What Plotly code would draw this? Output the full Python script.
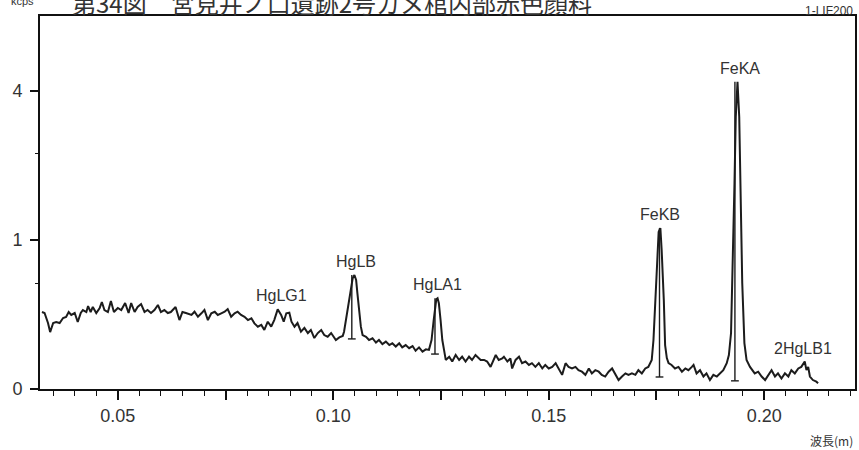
import numpy as np
import plotly.graph_objects as go

# ---- data (wavelength in nm, intensity in kcps) ----
wavelength = [
    0.0324, 0.0330, 0.0338, 0.0343, 0.0350, 0.0357, 0.0365, 0.0373, 0.0380, 0.0386,
    0.0392, 0.0400, 0.0407, 0.0414, 0.0419, 0.0427, 0.0431, 0.0437, 0.0442, 0.0450,
    0.0458, 0.0463, 0.0469, 0.0477, 0.0484, 0.0491, 0.0500, 0.0508, 0.0517, 0.0525,
    0.0531, 0.0539, 0.0546, 0.0554, 0.0562, 0.0569, 0.0577, 0.0585, 0.0593, 0.0600,
    0.0608, 0.0616, 0.0623, 0.0634, 0.0643, 0.0650, 0.0658,
    0.0671, 0.0678, 0.0686, 0.0694, 0.0701, 0.0709, 0.0717, 0.0725, 0.0732, 0.0740,
    0.0748, 0.0755, 0.0763, 0.0771, 0.0778, 0.0786, 0.0794, 0.0802, 0.0810, 0.0817,
    0.0825, 0.0833, 0.0840, 0.0848, 0.0856, 0.0863, 0.0871, 0.0879, 0.0885, 0.0891,
    0.0898, 0.0903, 0.0910, 0.0917, 0.0925, 0.0933, 0.0941, 0.0948, 0.0956, 0.0964,
    0.0972, 0.0979, 0.0987, 0.0995,
    0.1006, 0.1014, 0.1022, 0.1025, 0.1029, 0.1033, 0.1037, 0.1041, 0.1045, 0.1049,
    0.1053, 0.1056, 0.1060, 0.1064, 0.1068, 0.1076, 0.1083, 0.1091, 0.1099, 0.1106,
    0.1114, 0.1122, 0.1130, 0.1137, 0.1145, 0.1153, 0.1160, 0.1168, 0.1176, 0.1184,
    0.1191, 0.1199, 0.1207, 0.1215, 0.1222, 0.1228, 0.1233, 0.1236, 0.1239, 0.1242,
    0.1245, 0.1249, 0.1253, 0.1257, 0.1261, 0.1269, 0.1276, 0.1284, 0.1292, 0.1299,
    0.1307, 0.1315, 0.1322, 0.1330, 0.1338,
    0.1342, 0.1350, 0.1357, 0.1365, 0.1369, 0.1377, 0.1384, 0.1392, 0.1396, 0.1404,
    0.1411, 0.1415, 0.1423, 0.1431, 0.1438, 0.1446, 0.1454, 0.1461, 0.1469, 0.1477,
    0.1485, 0.1492, 0.1500, 0.1508, 0.1516, 0.1523, 0.1531, 0.1539, 0.1546, 0.1554,
    0.1562, 0.1569, 0.1577, 0.1585, 0.1593, 0.1600, 0.1608, 0.1616, 0.1623, 0.1631,
    0.1639, 0.1647, 0.1654, 0.1662, 0.1670, 0.1678, 0.1685, 0.1693,
    0.1701, 0.1708, 0.1716, 0.1724, 0.1731, 0.1739, 0.1743, 0.1747, 0.1751, 0.1755,
    0.1759, 0.1762, 0.1767, 0.1770, 0.1774, 0.1778, 0.1785, 0.1793, 0.1801, 0.1809,
    0.1817, 0.1824, 0.1832, 0.1836, 0.1843, 0.1851, 0.1859, 0.1866, 0.1874, 0.1882,
    0.1890, 0.1898, 0.1905, 0.1913, 0.1918, 0.1923, 0.1927, 0.1931, 0.1934, 0.1938,
    0.1942, 0.1946, 0.1949, 0.1954, 0.1959, 0.1967,
    0.1978, 0.1986, 0.1994, 0.2002, 0.2009, 0.2017, 0.2025, 0.2032, 0.2040, 0.2048,
    0.2056, 0.2063, 0.2071, 0.2079, 0.2086, 0.2094, 0.2098, 0.2102, 0.2106, 0.2113,
    0.2121, 0.2125,
]
intensity_kcps = [
    0.267, 0.260, 0.196, 0.146, 0.196, 0.202, 0.196, 0.227, 0.234, 0.267,
    0.247, 0.260, 0.202, 0.260, 0.281, 0.267, 0.310, 0.267, 0.303, 0.260,
    0.296, 0.341, 0.281, 0.267, 0.349, 0.267, 0.296, 0.281, 0.333, 0.260,
    0.333, 0.267, 0.303, 0.325, 0.267, 0.281, 0.260, 0.281, 0.318, 0.267,
    0.281, 0.260, 0.267, 0.303, 0.214, 0.267, 0.260,
    0.247, 0.269, 0.235, 0.258, 0.281, 0.214, 0.258, 0.269, 0.247, 0.258,
    0.269, 0.288, 0.235, 0.258, 0.269, 0.247, 0.235, 0.214, 0.225, 0.194,
    0.175, 0.185, 0.157, 0.204, 0.175, 0.214, 0.286, 0.247, 0.204, 0.258,
    0.262, 0.204, 0.175, 0.196, 0.148, 0.168, 0.141, 0.157, 0.117, 0.141,
    0.157, 0.131, 0.123, 0.141,
    0.108, 0.120, 0.127, 0.148, 0.214, 0.281, 0.384, 0.471, 0.552, 0.585,
    0.535, 0.412, 0.281, 0.175, 0.131, 0.123, 0.108, 0.116, 0.097, 0.108,
    0.091, 0.101, 0.087, 0.094, 0.081, 0.094, 0.078, 0.087, 0.075, 0.083,
    0.066, 0.078, 0.063, 0.071, 0.069, 0.108, 0.214, 0.305, 0.362, 0.371,
    0.331, 0.214, 0.108, 0.069, 0.038, 0.047, 0.034, 0.052, 0.038, 0.047,
    0.034, 0.047, 0.038, 0.052, 0.042,
    0.038, 0.038, 0.034, 0.022, 0.030, 0.052, 0.038, 0.042, 0.047, 0.034,
    0.042, 0.019, 0.038, 0.047, 0.030, 0.034, 0.026, 0.030, 0.022, 0.030,
    0.019, 0.026, 0.019, 0.022, 0.030, 0.019, 0.009, 0.030, 0.022, 0.019,
    0.022, 0.016, 0.0135, 0.009, 0.019, 0.011, 0.016, 0.0135, 0.009, 0.007,
    0.0135, 0.019, 0.011, 0.0036, 0.007, 0.011, 0.009, 0.011,
    0.009, 0.016, 0.011, 0.019, 0.022, 0.038, 0.108, 0.357, 0.785, 1.110,
    1.167, 0.870, 0.357, 0.087, 0.043, 0.030, 0.026, 0.019, 0.022, 0.0135,
    0.019, 0.016, 0.022, 0.026, 0.011, 0.016, 0.007, 0.011, 0.0036, 0.009,
    0.007, 0.011, 0.016, 0.030, 0.052, 0.141, 0.674, 1.912, 3.340, 4.254,
    3.340, 1.609, 0.506, 0.095, 0.038, 0.022,
    0.011, 0.0135, 0.007, 0.0036, 0.009, 0.016, 0.007, 0.011, 0.005, 0.011,
    0.007, 0.016, 0.011, 0.019, 0.022, 0.034, 0.016, 0.022, 0.007, 0.0036,
    0.0024, 0.0015,
]

# peak identification markers (vertical bar from peak top to background)
marker_x = [0.1043, 0.1236, 0.1757, 0.1932]
marker_top = [0.585, 0.371, 1.167, 4.254]
marker_base = [0.113, 0.055, 0.0065, 0.003]

# peak labels
peak_names = ["HgLG1", "HgLB", "HgLA1", "FeKB", "FeKA", "2HgLB1"]
peak_label_x = [0.0880, 0.1053, 0.1241, 0.1759, 0.1944, 0.2090]
peak_label_kcps = [0.286, 0.585, 0.371, 1.167, 4.254, 0.034]

# axis ticks
x_tickvals = [0.05, 0.075, 0.10, 0.125, 0.15, 0.175, 0.20]
x_ticktext = ["0.05", "", "0.10", "", "0.15", "", "0.20"]
y_tick_kcps = [0, 1, 4]
y_ticktext = ["0", "1", "4"]
y_minor_kcps = [0.5, 2.5]

title_text = "第34図　宮見井ノ口遺跡2号カメ棺内部赤色顔料"
y_unit = "kcps"
x_unit = "波長(m)"
crystal = "1-LIF200"

# ---- figure ----
LAT = "Liberation Sans, Arial, sans-serif"
CJK = "Noto Sans CJK JP, sans-serif"
INK = "#1c1c1c"
TXT = "#333333"

W, H = 859, 450
L, R, T, B = 40, 2, 16, 61
plot_w = W - L - R
plot_h = H - T - B


def ypaper(py):
    return (H - B - py) / plot_h


def xpaper(px):
    return (px - L) / plot_w


fig = go.Figure()

fig.add_trace(go.Scatter(
    x=wavelength, y=np.sqrt(intensity_kcps), mode="lines",
    line=dict(color=INK, width=2), hoverinfo="skip", showlegend=False))

# markers: vertical bars + short caps at the base
cap = 0.0009
mx, my = [], []
for xv, top, base in zip(marker_x, marker_top, marker_base):
    mx += [xv, xv, None, xv - cap, xv + cap, None]
    my += [np.sqrt(top), np.sqrt(base), None, np.sqrt(base), np.sqrt(base), None]
fig.add_trace(go.Scatter(x=mx, y=my, mode="lines",
                         line=dict(color=INK, width=1.4),
                         hoverinfo="skip", showlegend=False))

for name, xv, yv in zip(peak_names, peak_label_x, peak_label_kcps):
    fig.add_annotation(x=xv, y=float(np.sqrt(yv)), text=name, showarrow=False,
                       yanchor="bottom", yshift=3,
                       font=dict(family=LAT, size=16, color=TXT))

fig.add_annotation(xref="paper", yref="paper", x=xpaper(70),
                   y=ypaper(22), xanchor="left", yanchor="bottom",
                   text=title_text, showarrow=False,
                   font=dict(family=CJK, size=24, color=TXT))
fig.add_annotation(xref="paper", yref="paper", x=xpaper(9),
                   y=ypaper(9), xanchor="left", yanchor="bottom",
                   text=y_unit, showarrow=False,
                   font=dict(family=LAT, size=11, color=TXT))
fig.add_annotation(xref="paper", yref="paper", x=1.0,
                   y=ypaper(20), xanchor="right", yanchor="bottom",
                   text=crystal, showarrow=False,
                   font=dict(family=LAT, size=12, color=TXT))
fig.add_annotation(xref="paper", yref="paper", x=1.0,
                   y=ypaper(440), xanchor="right", yanchor="middle",
                   text=x_unit, showarrow=False,
                   font=dict(family=CJK, size=12, color=TXT))

x_range = [0.05 - 78 / 4320, 0.20 + 91 / 4320]
y_top = plot_h / 149.0

fig.update_layout(
    width=W, height=H,
    margin=dict(l=L, r=R, t=T, b=B, pad=0),
    paper_bgcolor="white", plot_bgcolor="white",
    showlegend=False,
    xaxis=dict(range=x_range, showgrid=False, zeroline=False,
               showline=True, linecolor="#111", linewidth=2, mirror=True,
               ticks="outside", ticklen=9, tickwidth=1.5, tickcolor="#111",
               tickvals=x_tickvals, ticktext=x_ticktext,
               ticklabelstandoff=0,
               tickfont=dict(family=LAT, size=18, color=TXT),
               minor=dict(dtick=0.005, tick0=0, ticks="outside", ticklen=5,
                          tickwidth=1.2, tickcolor="#111", showgrid=False)),
    yaxis=dict(range=[0, y_top], showgrid=False, zeroline=False,
               showline=True, linecolor="#111", linewidth=2, mirror=True,
               ticks="outside", ticklen=8, tickwidth=1.5, tickcolor="#111",
               tickvals=[float(np.sqrt(v)) for v in y_tick_kcps],
               ticktext=y_ticktext, ticklabelstandoff=4,
               tickfont=dict(family=LAT, size=18, color=TXT),
               minor=dict(tickvals=[float(np.sqrt(v)) for v in y_minor_kcps],
                          ticks="outside", ticklen=3, tickwidth=1.2,
                          tickcolor="#111", showgrid=False)),
)

fig.write_html("out.html",
               config={"displayModeBar": False},
               post_script="document.body.style.margin='0';")
